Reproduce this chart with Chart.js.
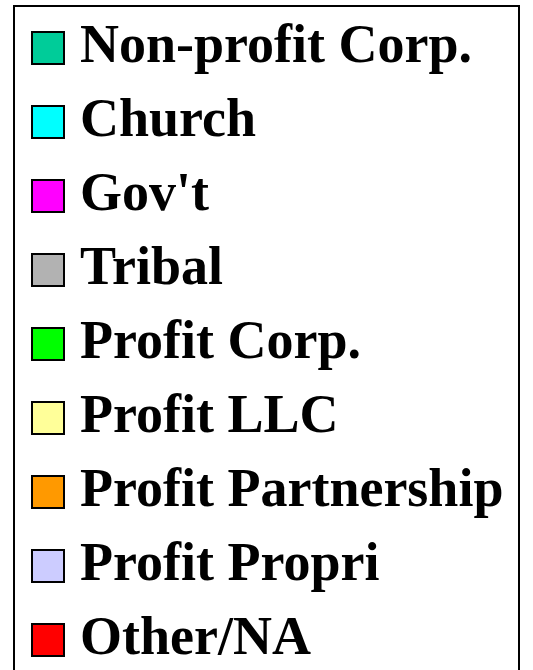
<!DOCTYPE html>
<html>
<head>
<meta charset="utf-8">
<script src="https://cdn.jsdelivr.net/npm/chart.js@4.4.0/dist/chart.umd.min.js"></script>
<style>
  html, body { margin: 0; padding: 0; background: #fff; overflow: hidden; width: 533px; height: 670px; }
  #wrap { position: relative; width: 533px; height: 670px; overflow: hidden; }
  #frame { position: absolute; left: 13px; top: 5px; width: 503px; height: 800px; border: 2px solid #000; box-sizing: content-box; }
  #c { position: absolute; left: 0; top: 0; }
</style>
</head>
<body>
<div id="wrap">
  <div id="frame"></div>
  <canvas id="c" width="1100" height="760"></canvas>
</div>
<script>
const categories = ["Non-profit Corp.", "Church", "Gov't", "Tribal", "Profit Corp.", "Profit LLC", "Profit Partnership", "Profit Propri", "Other/NA"];
const colors = ["#00CC99", "#00FFFF", "#FF00FF", "#B2B2B2", "#00FF00", "#FFFF99", "#FF9900", "#CCCCFF", "#FF0000"];

function makeSwatch(color) {
  const cv = document.createElement('canvas');
  cv.width = 34; cv.height = 34;
  const g = cv.getContext('2d');
  g.fillStyle = color;
  g.fillRect(0, 0, 34, 34);
  g.strokeStyle = '#000';
  g.lineWidth = 2;
  g.strokeRect(1, 1, 32, 32);
  return cv;
}
const swatches = colors.map(makeSwatch);

new Chart(document.getElementById('c'), {
  type: 'bar',
  data: {
    labels: [],
    datasets: categories.map((c, i) => ({ label: c, data: [], backgroundColor: colors[i], borderColor: '#000', borderWidth: 2 }))
  },
  options: {
    responsive: false,
    animation: false,
    events: [],
    layout: { padding: { left: 23, top: 1, right: 0, bottom: 0 } },
    scales: { x: { display: false }, y: { display: false } },
    plugins: {
      tooltip: { enabled: false },
      legend: {
        display: true,
        position: 'left',
        align: 'start',
        labels: {
          usePointStyle: true,
          boxWidth: 10,
          boxHeight: 10,
          padding: 20,
          color: '#000',
          font: { family: "'Liberation Serif', 'Times New Roman', serif", size: 54, weight: 'bold' },
          generateLabels: (chart) => chart.data.datasets.map((ds, i) => ({
            text: ds.label,
            fillStyle: ds.backgroundColor,
            strokeStyle: '#000',
            lineWidth: 2,
            pointStyle: swatches[i],
            fontColor: '#000',
            hidden: false,
            datasetIndex: i
          }))
        }
      }
    }
  }
});
</script>
</body>
</html>
